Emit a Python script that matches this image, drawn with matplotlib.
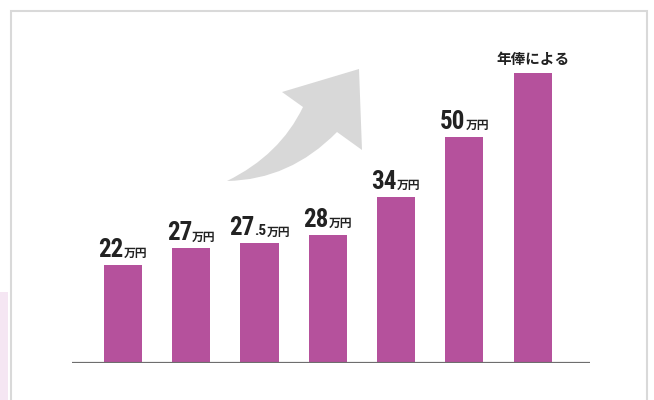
import matplotlib
matplotlib.use("Agg")
import matplotlib.pyplot as plt
from matplotlib.patches import Rectangle, PathPatch
from matplotlib.path import Path
from matplotlib.offsetbox import TextArea, HPacker, AnnotationBbox

# 棒の高さ（万円、図から読み取り）とラベル
bar_heights = [21.7, 25.4, 26.5, 28.3, 36.7, 50.0, 64.2]
label_nums = ["22", "27", "27", "28", "34", "50", ""]
label_decs = ["", "", ".5", "", "", "", ""]
label_units = ["万円", "万円", "万円", "万円", "万円", "万円", ""]
last_label = "年俸による"

BAR_COLOR = "#b5519c"
TEXT_COLOR = "#222222"
num_font = ["Roboto Condensed", "Roboto", "DejaVu Sans"]
jp_font = ["Noto Sans CJK JP", "DejaVu Sans"]

W, H = 654, 400


def px(x, y):
    # 画像のピクセル座標（左上原点）を figure 座標へ
    return (x / W, 1 - y / H)


fig = plt.figure(figsize=(W / 100, H / 100), dpi=100)

# 左下のピンクの帯とカードの枠
fig.patches.append(Rectangle(px(0, 400), 8 / W, 108 / H, transform=fig.transFigure,
                             facecolor="#f5e6f3", edgecolor="none", zorder=0))
fig.patches.append(Rectangle(px(11, 420), 636 / W, 409 / H, transform=fig.transFigure,
                             facecolor="white", edgecolor="#d9d9d9", lw=1.5, zorder=1))

# 右上がりの矢印
verts = [px(227, 181), px(280, 155), px(303, 107), px(282, 92), px(359, 69),
         px(362, 150), px(337, 132), px(290, 180), px(227, 181), px(227, 181)]
codes = [Path.MOVETO, Path.CURVE3, Path.CURVE3, Path.LINETO, Path.LINETO,
         Path.LINETO, Path.LINETO, Path.CURVE3, Path.CURVE3, Path.CLOSEPOLY]
fig.patches.append(PathPatch(Path(verts, codes), transform=fig.transFigure,
                             facecolor="#d8d8d8", edgecolor="none", zorder=2))

ax = fig.add_axes([72 / W, 37 / H, 518 / W, 350 / H])
ax.patch.set_alpha(0)
ax.set_zorder(3)
x = list(range(len(bar_heights)))
ax.bar(x, bar_heights, width=0.56, color=BAR_COLOR, zorder=2)
ax.axhline(0, color="#6e6e6e", lw=1.6, zorder=3)
ax.set_xlim(-0.745, 6.84)
ax.set_ylim(0, 350 / 4.52)
ax.axis("off")

for i, h in enumerate(bar_heights):
    parts = []
    if label_nums[i]:
        parts.append(TextArea(label_nums[i], textprops=dict(
            family=num_font, weight="black", size=18, color=TEXT_COLOR)))
        if label_decs[i]:
            parts.append(TextArea(label_decs[i], textprops=dict(
                family=num_font, weight="black", size=11, color=TEXT_COLOR)))
        parts.append(TextArea(label_units[i], textprops=dict(
            family=jp_font, weight="bold", size=8.5, color=TEXT_COLOR)))
        offset = 2
    else:
        parts.append(TextArea(last_label, textprops=dict(
            family=jp_font, weight="bold", size=10.5, color=TEXT_COLOR)))
        offset = 4
    box = HPacker(children=parts, align="baseline", pad=0, sep=0)
    ab = AnnotationBbox(box, (i, h), xybox=(0, offset), xycoords="data",
                        boxcoords="offset points", box_alignment=(0.5, 0),
                        frameon=False, pad=0)
    ax.add_artist(ab)

fig.savefig("out.png", dpi=100)
